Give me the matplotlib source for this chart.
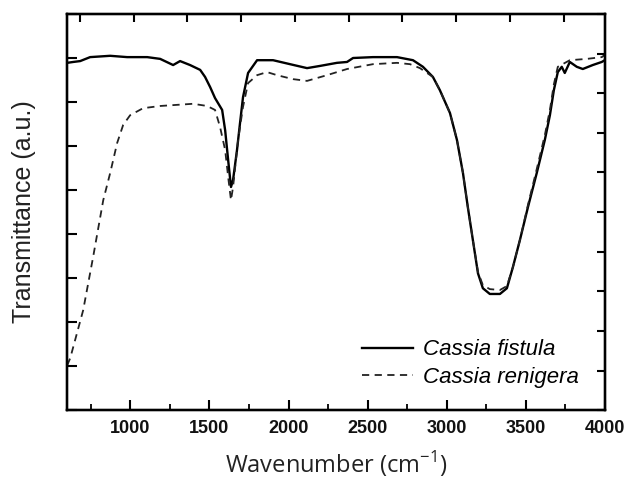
import matplotlib
matplotlib.use("Agg")
import matplotlib.pyplot as plt
from matplotlib.ticker import MultipleLocator, NullFormatter

plt.rcParams['font.family'] = ['Liberation Sans', 'DejaVu Sans']
plt.rcParams['mathtext.fontset'] = 'custom'
plt.rcParams['mathtext.rm'] = 'Open Sans'

# Cassia fistula (solid)
wn_fistula = [600, 638, 682, 745, 872, 979, 1106, 1188, 1270, 1314, 1377, 1441, 1472, 1504,
              1535, 1580, 1599, 1618, 1636, 1649, 1674, 1693, 1712, 1744, 1801, 1902, 2009,
              2117, 2199, 2306, 2370, 2408, 2534, 2686, 2787, 2850, 2913, 2957, 3021, 3065,
              3103, 3134, 3166, 3198, 3229, 3273, 3337, 3381, 3419, 3463, 3514, 3570, 3621,
              3653, 3678, 3703, 3728, 3747, 3779, 3823, 3861, 3924, 3981, 4000]
tr_fistula = [78.9, 79.1, 79.3, 80.2, 80.5, 80.2, 80.2, 79.8, 78.4, 79.3, 78.4, 77.3, 75.7, 73.4,
              70.9, 68.2, 63.6, 56.8, 50.7, 52.3, 59.1, 65.2, 71.1, 76.6, 79.5, 79.5, 78.6,
              77.7, 78.2, 78.9, 79.1, 80.0, 80.2, 80.2, 79.5, 78.0, 75.7, 72.7, 67.5, 61.4,
              53.9, 46.1, 38.6, 31.1, 27.7, 26.4, 26.4, 27.7, 32.5, 38.6, 46.1, 53.9, 61.4,
              67.0, 72.7, 76.8, 78.0, 76.6, 79.1, 78.0, 77.5, 78.4, 79.1, 79.5]

# Cassia renigera (dashed)
wn_renigera = [600, 619, 701, 764, 828, 872, 916, 954, 998, 1080, 1188, 1396, 1485, 1535,
               1567, 1599, 1618, 1636, 1649, 1681, 1712, 1744, 1801, 1864, 1927, 2028, 2117,
               2243, 2370, 2534, 2686, 2768, 2831, 2913, 2957, 3021, 3065, 3103, 3134, 3166,
               3198, 3229, 3273, 3337, 3381, 3419, 3463, 3514, 3570, 3621, 3653, 3678, 3703,
               3779, 3887, 3981, 4000]
tr_renigera = [10.2, 11.8, 22.7, 34.8, 47.7, 53.9, 60.7, 64.8, 67.0, 68.6, 69.1, 69.6, 69.1, 68.2,
               64.3, 59.1, 53.0, 47.7, 50.7, 61.4, 68.9, 74.3, 76.1, 76.8, 76.1, 75.2, 74.8,
               76.1, 77.5, 78.6, 78.9, 78.6, 77.7, 75.7, 72.7, 67.5, 61.4, 53.9, 46.1, 38.6,
               31.4, 28.4, 27.5, 27.3, 28.2, 32.5, 38.6, 46.6, 54.8, 62.5, 68.2, 74.0, 78.0,
               79.5, 79.8, 80.2, 80.7]

fig = plt.figure(figsize=(6.28, 4.82), dpi=100)
ax = fig.add_axes([0.107, 0.149, 0.856, 0.822])

ax.plot(wn_fistula, tr_fistula, color="black", lw=1.7, label="Cassia fistula")
ax.plot(wn_renigera, tr_renigera, color="#222222", lw=1.3, ls=(0, (4, 3)), label="Cassia renigera")

ax.set_xlim(600, 4000)
ax.set_ylim(0, 90)

# bottom / left ticks
ax.xaxis.set_major_locator(MultipleLocator(500))
ax.xaxis.set_minor_locator(MultipleLocator(250))
ax.yaxis.set_major_locator(MultipleLocator(10))
ax.yaxis.set_major_formatter(NullFormatter())
ax.tick_params(axis="both", which="major", direction="in", length=7, width=1.5)
ax.tick_params(axis="x", which="minor", direction="in", length=4, width=1.3)
ax.tick_params(axis="x", pad=7, labelsize=13, labelcolor="#111111")
plt.setp(ax.get_xticklabels(), fontweight="bold")

# top and right axes have their own tick spacing
top = ax.twiny()
top.set_xlim(600, 4000)
top.xaxis.set_major_locator(MultipleLocator(340))
top.xaxis.set_major_formatter(NullFormatter())
top.tick_params(axis="x", direction="in", length=6, width=1.5)

right = ax.twinx()
right.set_ylim(0, 90)
right.yaxis.set_major_locator(MultipleLocator(9))
right.yaxis.set_major_formatter(NullFormatter())
right.tick_params(axis="y", direction="in", length=6, width=1.5)

for a in (ax, top, right):
    for sp in a.spines.values():
        sp.set_linewidth(1.6)

ax.set_xlabel("Wavenumber (cm$^{-1}$)", fontfamily="Open Sans", fontsize=17, labelpad=9,
              color="#222222")
ax.set_ylabel("Transmittance (a.u.)", fontsize=18, labelpad=19, color="#222222")

leg = ax.legend(loc="center left", bbox_to_anchor=(0.532, 0.117), borderaxespad=0,
                frameon=False,
                prop={"family": "Liberation Sans", "style": "italic", "size": 16},
                handlelength=2.3, handletextpad=0.45, labelspacing=0.3)

fig.savefig("out.png", dpi=100)
